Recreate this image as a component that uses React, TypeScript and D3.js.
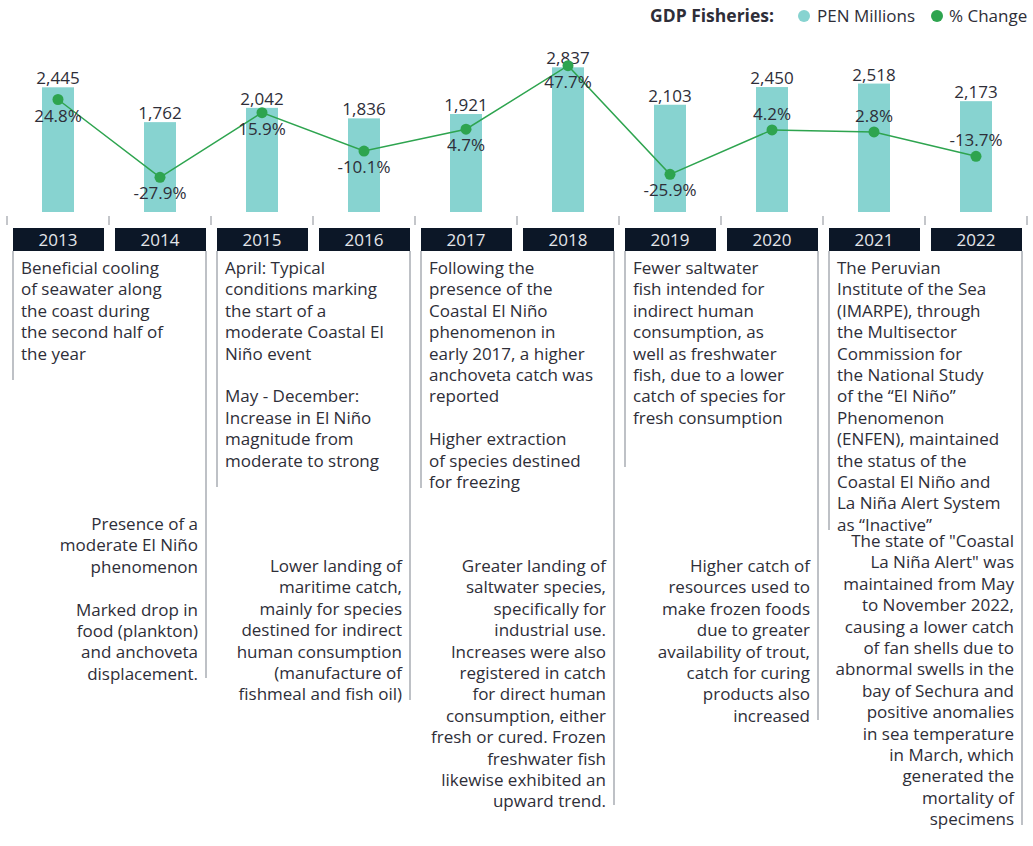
import React from "react";
import * as d3 from "d3";

// values
const years = ["2013", "2014", "2015", "2016", "2017", "2018", "2019", "2020", "2021", "2022"];
const gdpMillions = [2445, 1762, 2042, 1836, 1921, 2837, 2103, 2450, 2518, 2173];
const pctChange = [24.8, -27.9, 15.9, -10.1, 4.7, 47.7, -25.9, 4.2, 2.8, -13.7];
const pctAbove = ["2020", "2021", "2022"];

const notes: string[][] = [
  ["Beneficial cooling", "of seawater along", "the coast during", "the second half of", "the year"],
  ["Presence of a", "moderate El Niño", "phenomenon", "", "Marked drop in", "food (plankton)", "and anchoveta", "displacement."],
  ["April: Typical", "conditions marking", "the start of a", "moderate Coastal El", "Niño event", "", "May - December:", "Increase in El Niño", "magnitude from", "moderate to strong"],
  ["Lower landing of", "maritime catch,", "mainly for species", "destined for indirect", "human consumption", "(manufacture of", "fishmeal and fish oil)"],
  ["Following the", "presence of the", "Coastal El Niño", "phenomenon in", "early 2017, a higher", "anchoveta catch was", "reported", "", "Higher extraction", "of species destined", "for freezing"],
  ["Greater landing of", "saltwater species,", "specifically for", "industrial use.", "Increases were also", "registered in catch", "for direct human", "consumption, either", "fresh or cured. Frozen", "freshwater fish", "likewise exhibited an", "upward trend."],
  ["Fewer saltwater", "fish intended for", "indirect human", "consumption, as", "well as freshwater", "fish, due to a lower", "catch of species for", "fresh consumption"],
  ["Higher catch of", "resources used to", "make frozen foods", "due to greater", "availability of trout,", "catch for curing", "products also", "increased"],
  ["The Peruvian", "Institute of the Sea", "(IMARPE), through", "the Multisector", "Commission for", "the National Study", "of the \u201cEl Niño\u201d", "Phenomenon", "(ENFEN), maintained", "the status of the", "Coastal El Niño and", "La Niña Alert System", "as \u201cInactive\u201d"],
  ["The state of \"Coastal", "La Niña Alert\" was", "maintained from May", "to November 2022,", "causing a lower catch", "of fan shells due to", "abnormal swells in the", "bay of Sechura and", "positive anomalies", "in sea temperature", "in March, which", "generated the", "mortality of", "specimens"],
];

// layout of each note: first baseline and end of its rule
const noteStart = [274, 530, 274, 572, 274, 572, 274, 572, 274, 547];
const noteEnd = [380, 678, 487, 700, 488, 805, 467, 720, 530, 825];

const W = 1033, H = 846;
const FONT = "'Open Sans', sans-serif";
const TEXT = "#2e2e38";
const TEAL = "#87d3d0";
const GREEN = "#2ea44f";
const NAVY = "#0c1727";
const RULE = "#a9adb3";
const LH = 21.4;
const FS = 17;

export default function App() {
  const x = d3.scaleBand().domain(years).range([7, 1027]);
  const bw = x.bandwidth();
  const cx = (y: string) => (x(y) as number) + bw / 2;
  const yBar = d3.scaleLinear().domain([0, 3000]).range([212, 59]);
  const yPct = d3.scaleLinear().domain([-30, 50]).range([180.4, 62.3]);
  const line = d3
    .line<number>()
    .x((d, i) => cx(years[i]))
    .y((d) => yPct(d));
  const fmt = d3.format(",");
  const barW = 32;
  const ticks = [...years.map((y) => x(y) as number), 1027];

  return (
    <svg width={W} height={H} style={{ position: "absolute", left: 0, top: 0 }} fontFamily={FONT}>
      <rect width={W} height={H} fill="#fff" />
      {/* legend */}
      <g fontSize={FS} fill={TEXT}>
        <text x={650} y={22} fontWeight={700} fontSize={17.5}>GDP Fisheries:</text>
        <circle cx={804} cy={16} r={6} fill={TEAL} />
        <text x={817} y={22}>PEN Millions</text>
        <circle cx={937} cy={16} r={6} fill={GREEN} />
        <text x={949} y={22}>% Change</text>
      </g>

      {/* bars */}
      {years.map((y, i) => (
        <g key={"b" + y}>
          <rect x={cx(y) - barW / 2} y={yBar(gdpMillions[i])} width={barW} height={yBar(0) - yBar(gdpMillions[i])} fill={TEAL} />
          <text x={cx(y)} y={yBar(gdpMillions[i]) - 3} textAnchor="middle" fontSize={FS} fill={TEXT}>
            {fmt(gdpMillions[i])}
          </text>
        </g>
      ))}

      {/* % change line */}
      <path d={line(pctChange) || ""} fill="none" stroke={GREEN} strokeWidth={1.5} />
      {years.map((y, i) => (
        <g key={"p" + y}>
          <circle cx={cx(y)} cy={yPct(pctChange[i])} r={5.5} fill={GREEN} />
          <text
            x={cx(y)}
            y={yPct(pctChange[i]) + (pctAbove.includes(y) ? -10 : 22)}
            textAnchor="middle"
            fontSize={FS}
            fill={TEXT}
          >
            {pctChange[i].toFixed(1) + "%"}
          </text>
        </g>
      ))}

      {/* ticks */}
      {ticks.map((t, i) => (
        <line key={"t" + i} x1={t} x2={t} y1={216} y2={225} stroke="#c4c6ca" strokeWidth={2} />
      ))}

      {/* year boxes */}
      {years.map((y) => (
        <g key={"y" + y}>
          <rect x={(x(y) as number) + 6} y={228} width={bw - 11} height={23} fill={NAVY} />
          <text x={cx(y)} y={245.5} textAnchor="middle" fontSize={FS} fill="#e4e6ea">
            {y}
          </text>
        </g>
      ))}

      {/* notes */}
      {years.map((y, i) => {
        const top = i % 2 === 0;
        const lx = top ? (x(y) as number) + 6 : (x(y) as number) + bw - 5;
        const tx = top ? lx + 8 : lx - 8;
        return (
          <g key={"n" + y}>
            <line x1={lx} x2={lx} y1={251} y2={noteEnd[i]} stroke={RULE} strokeWidth={1.5} />
            <text fontSize={FS} fill={TEXT} textAnchor={top ? "start" : "end"}>
              {notes[i].map((s, j) => (
                <tspan key={j} x={tx} y={noteStart[i] + j * LH}>
                  {s}
                </tspan>
              ))}
            </text>
          </g>
        );
      })}
    </svg>
  );
}
